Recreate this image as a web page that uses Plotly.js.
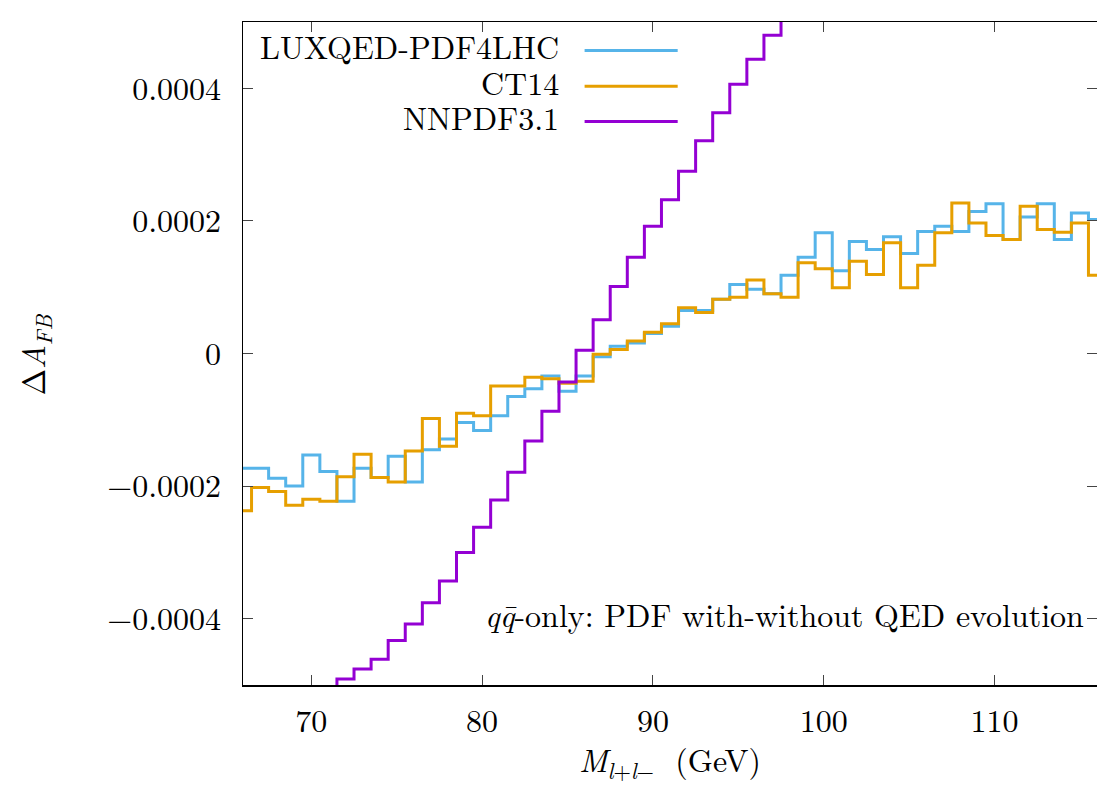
<!DOCTYPE html>
<html>
<head>
<meta charset="utf-8">
<script src="https://cdn.plot.ly/plotly-3.0.1.min.js"></script>
<style>
  html, body { margin: 0; padding: 0; background: #ffffff; }
  #chart { width: 1097px; height: 787px; }
</style>
</head>
<body>
<div id="chart"></div>
<script>
// ---- Data (bin centres in GeV, bin width 1 GeV) ----
const massGeV = [66,67,68,69,70,71,72,73,74,75,76,77,78,79,80,81,82,83,84,85,86,87,88,89,90,
                 91,92,93,94,95,96,97,98,99,100,101,102,103,104,105,106,107,108,109,110,111,112,113,114,115,116];

const luxqedPdf4lhc = [-0.000173,-0.000173,-0.000188,-0.000200,-0.000153,-0.000178,-0.000223,-0.000173,-0.000187,-0.000155,
                       -0.000194,-0.000145,-0.000129,-0.000104,-0.000116,-0.000094,-0.000065,-0.000053,-0.000034,-0.000057,
                       -0.000034,-0.000005,0.000011,0.000016,0.000030,0.000041,0.000065,0.000065,0.000082,0.000104,
                       0.000097,0.000090,0.000118,0.000145,0.000182,0.000125,0.000169,0.000157,0.000176,0.000151,
                       0.000184,0.000192,0.000184,0.000214,0.000226,0.000172,0.000206,0.000226,0.000172,0.000212,0.000202];

const ct14 = [-0.000237,-0.000202,-0.000208,-0.000229,-0.000220,-0.000223,-0.000186,-0.000152,-0.000187,-0.000194,
              -0.000147,-0.000098,-0.000140,-0.000090,-0.000094,-0.000049,-0.000049,-0.000036,-0.000038,-0.000045,
              -0.000042,-0.000001,0.000006,0.000019,0.000032,0.000045,0.000069,0.000062,0.000082,0.000085,
              0.000111,0.000090,0.000085,0.000137,0.000128,0.000099,0.000139,0.000119,0.000167,0.000099,
              0.000133,0.000182,0.000227,0.000197,0.000178,0.000172,0.000222,0.000187,0.000183,0.000197,0.000118];

const nnpdfMassGeV = [71,72,73,74,75,76,77,78,79,80,81,82,83,84,85,86,87,88,89,90,91,92,93,94,95,96,97,98];
const nnpdf31 = [-0.000515,-0.000491,-0.000476,-0.000461,-0.000433,-0.000408,-0.000376,-0.000343,-0.000300,-0.000262,
                 -0.000221,-0.000179,-0.000132,-0.000087,-0.000043,0.000005,0.000051,0.000101,0.000145,0.000192,
                 0.000232,0.000275,0.000321,0.000363,0.000406,0.000444,0.000480,0.000525];

const seriesNames = ["LUXQED-PDF4LHC", "CT14", "NNPDF3.1"];
const seriesColors = ["#56b4e9", "#e69f00", "#9400d3"];

const xTickVals = [70, 80, 90, 100, 110];
const yTickVals = [-0.0004, -0.0002, 0, 0.0002, 0.0004];
const yTickText = ["\u22120.0004", "\u22120.0002", "0", "0.0002", "0.0004"];

// ---- Plot ----
const FONT = "Latin Modern Roman";
const LW = 3;

const traces = [
  { x: massGeV, y: luxqedPdf4lhc, name: seriesNames[0] },
  { x: massGeV, y: ct14, name: seriesNames[1] },
  { x: nnpdfMassGeV, y: nnpdf31, name: seriesNames[2] }
].map((t, i) => Object.assign(t, {
  type: "scatter", mode: "lines",
  line: { shape: "hvh", color: seriesColors[i], width: LW },
  showlegend: false, hoverinfo: "skip"
}));

// gnuplot-style key: right-aligned text with a line sample to its right
const keyY = [0.957, 0.903, 0.850];
const annotations = [];
const shapes = [];
seriesNames.forEach((n, i) => {
  annotations.push({
    xref: "paper", yref: "paper", x: 0.372, y: keyY[i] + 0.008,
    xanchor: "right", yanchor: "middle", showarrow: false,
    text: n, font: { family: FONT, size: 32, color: "#000" }
  });
  shapes.push({
    type: "line", xref: "paper", yref: "paper",
    x0: 0.400, x1: 0.509, y0: keyY[i], y1: keyY[i],
    line: { color: seriesColors[i], width: LW }
  });
});

annotations.push({
  xref: "paper", yref: "paper", x: 0.987, y: 0.108,
  xanchor: "right", yanchor: "middle", showarrow: false,
  text: "<i>q</i><i>q\u0304</i>-only: PDF with-without QED evolution",
  font: { family: FONT, size: 32, color: "#000" }
});
annotations.push({
  xref: "paper", yref: "paper", x: 0.5, y: -0.114,
  xanchor: "center", yanchor: "middle", showarrow: false,
  text: "<i>M</i><sub><i>l</i>+<i>l</i>\u2212</sub>  (GeV)",
  font: { family: FONT, size: 32, color: "#000" }
});
annotations.push({
  xref: "paper", yref: "paper", x: -0.245, y: 0.498,
  xanchor: "center", yanchor: "middle", showarrow: false, textangle: -90,
  text: "\u0394<i>A</i><sub><i>FB</i></sub>",
  font: { family: FONT, size: 32, color: "#000" }
});

const axisCommon = {
  showgrid: false, zeroline: false,
  showline: true, linecolor: "#000", linewidth: 1.5, mirror: "ticks",
  ticks: "inside", ticklen: 10, tickwidth: 1, tickcolor: "#444",
  tickfont: { family: FONT, size: 32, color: "#000" }
};

const layout = {
  width: 1097, height: 787,
  margin: { l: 243, r: 0, t: 22, b: 102 },
  paper_bgcolor: "#fff", plot_bgcolor: "#fff",
  font: { family: FONT },
  showlegend: false,
  xaxis: Object.assign({}, axisCommon, {
    range: [66, 116], tickmode: "array", tickvals: xTickVals,
    ticklabelstandoff: 7
  }),
  yaxis: Object.assign({}, axisCommon, {
    range: [-0.0005, 0.0005], tickmode: "array",
    tickvals: yTickVals, ticktext: yTickText,
    ticklabelstandoff: 14
  }),
  annotations: annotations,
  shapes: shapes
};

Plotly.newPlot("chart", traces, layout, { staticPlot: true, displayModeBar: false });
</script>
</body>
</html>
